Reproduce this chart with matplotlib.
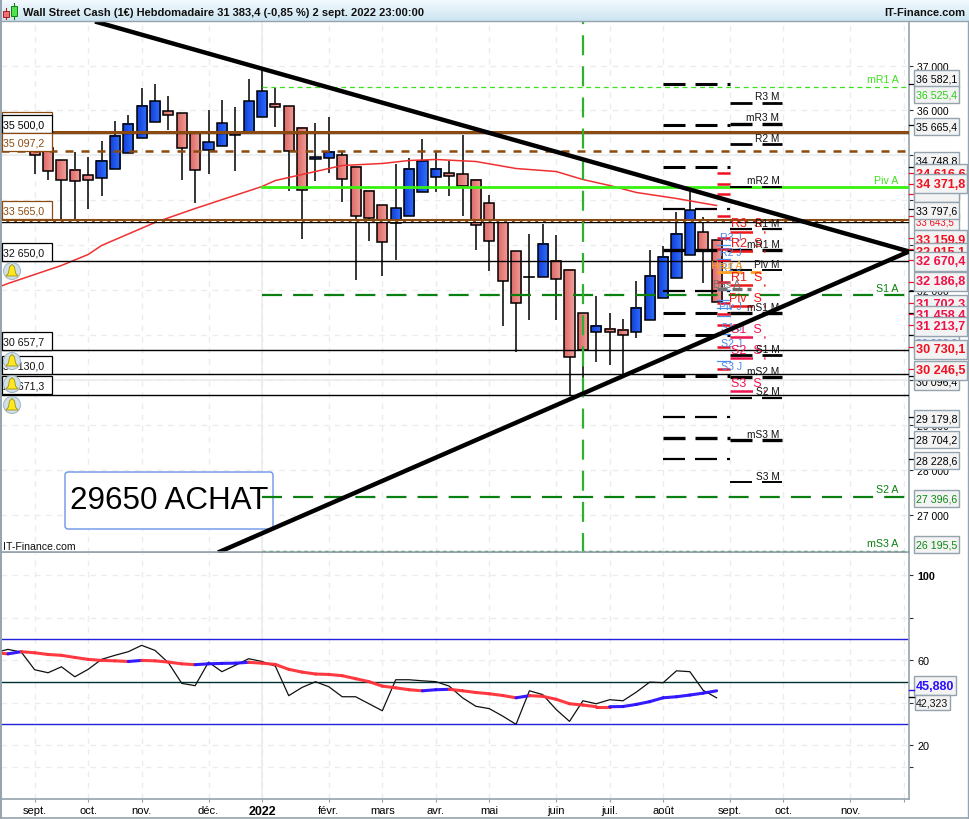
import numpy as np
import matplotlib
matplotlib.use('Agg')
import matplotlib.pyplot as plt
from matplotlib.colors import LinearSegmentedColormap
from matplotlib.patches import Rectangle, FancyBboxPatch, Circle, Polygon

plt.rcParams['font.family'] = ['Liberation Sans', 'DejaVu Sans']

# Weekly candles: index 0 is the first week of January 2022
candle_idx = list(range(-17, 35))
open_ = [35092, 35167, 34899, 34677, 34565, 34498, 34699, 35055, 35389, 35746, 35991, 35946, 35501,
         35122, 35211, 35456, 35501, 35857, 36147, 36102, 35612, 34922, 34944, 35010, 34743, 34209,
         33897, 33496, 33644, 34186, 34520, 34609, 34587, 34454, 33941, 33518, 32872, 32293, 32293,
         32650, 32449, 31491, 31068, 31135, 31113, 31068, 31335, 31825, 32271, 32769, 33281, 33103]
high = [35140, 35241, 34899, 35070, 34966, 35323, 35753, 35887, 36488, 36577, 36310, 35946, 35538,
        35998, 36221, 36065, 36689, 36911, 36503, 36102, 35612, 35709, 35864, 35092, 34743, 34209,
        33897, 34817, 34944, 35374, 35099, 34884, 35463, 34454, 34105, 33518, 32872, 33258, 33459,
        33236, 32449, 31491, 31863, 31491, 31358, 32204, 32902, 32976, 33748, 34238, 33637, 33103]
low = [34573, 34461, 33570, 33570, 33801, 34090, 34699, 35055, 35389, 35746, 35560, 34461, 33934,
       34573, 35204, 34640, 35501, 35857, 35620, 34194, 33125, 34417, 34595, 33956, 32219, 33088,
       32308, 32664, 33644, 34186, 34179, 34090, 33659, 32887, 32419, 31194, 30615, 31328, 32293,
       31343, 29636, 29969, 30393, 30326, 30118, 30942, 31335, 31825, 32271, 32769, 32167, 31744]
close = [35003, 34654, 34454, 34432, 34454, 34877, 35434, 35701, 36102, 36213, 35902, 35167, 34677,
         35300, 35723, 35486, 36213, 36436, 36080, 35100, 34231, 34966, 35078, 34476, 33644, 33607,
         33073, 33830, 34699, 34884, 34699, 34543, 34320, 33451, 33095, 32204, 31714, 32293, 33028,
         32249, 30511, 30667, 31202, 31068, 31001, 31603, 32315, 32739, 33251, 33771, 32902, 31744]

# Moving average
ma_idx = [-20, -19, -15, -13, -12, -8, -5, 0, 1, 6, 9, 11, 13, 16, 19, 22, 24, 26, 28, 31, 34]
ma_val = [32030, 32145, 32546, 32791, 32991, 33504, 33815, 34305, 34439, 34773, 34818, 34884, 34907,
          34862, 34706, 34639, 34461, 34328, 34172, 34038, 33882]

# Trend lines
down_idx = [-12.49, 48.39]
down_val = [37980, 32858]
up_idx = [-3.29, 48.39]
up_val = [26154, 32858]

# Monthly pivots, previous and next month
pivot_prev = [36582.1, 35665.4, 34748.8, 33797.6, 32880, 31967, 31477, 31009, 30074, 29179.8, 28704.2, 28228.6]
pivot_prev_lw = [2.2, 2.2, 2.2, 1.6, 2.4, 1.6, 2.2, 2.2, 2.2, 1.6, 2.4, 1.6]
pivot_next = [36176, 35708, 35241, 34305, 33348, 32880, 32435, 31477, 30542, 30052, 29606, 28649, 27713]
pivot_next_names = ['R3 M', 'mR3 M', 'R2 M', 'mR2 M', 'R1 M', 'mR1 M', 'Piv M', 'mS1 M', 'S1 M', 'mS2 M', 'S2 M', 'mS3 M', 'S3 M']
pivot_next_lw = [2, 2.4, 2, 1.4, 1.6, 2.4, 1.4, 2.4, 2, 2.4, 1.6, 2.4, 1.4]

# Weekly and daily pivots
week_prev = [34616.6, 34371.8, 34128, 33643.5, 33159.9, 32915.1, 32670.4, 32186.8, 31702.3, 31458.4, 31213.7, 30730.1, 30246.5]
week_next = [33303, 32858, 32101, 31633, 30943, 30475, 29740]
week_names = ['R3  S', 'R2  S', 'R1  S', 'Piv  S', 'S1  S', 'S2  S', 'S3  S']
day_levels = [33000, 32700, 31990, 31770, 31590, 31430, 31010, 30430]
day_names = ['R3 J', 'R2 J', 'R1 J', 'Piv J', 'S1 J', 'S2 J', 'S3 J']
day_label_levels = [33180, 32840, 32510, 31650, 31180, 30830, 30310]

# Oscillator
rsi_idx = list(range(-20, 35))
rsi = [63.6, 65.2, 63.9, 55.6, 54.2, 57.0, 52.3, 55.8, 60.5, 62.4, 64.1, 67.1, 64.7, 58.9, 49.2, 48.1,
       59.2, 54.7, 57.7, 60.8, 59.5, 57.3, 43.4, 47.3, 49.97, 47.6, 42.9, 42.9, 39.6, 36.3, 50.9, 50.9,
       50.4, 50.0, 47.9, 42.4, 38.4, 37.3, 33.8, 29.9, 45.7, 43.9, 36.9, 31.3, 41.0, 39.6, 41.5, 41.0,
       45.1, 49.8, 49.5, 55.1, 54.7, 45.9, 42.4]
rsi_avg = [63.6, 63.1, 64.1, 63.6, 62.8, 62.4, 61.4, 60.5, 60.0, 59.8, 59.5, 60.0, 59.8, 59.2, 58.4, 58.0,
           58.4, 58.6, 58.7, 59.1, 58.7, 58.1, 55.8, 54.5, 53.6, 53.4, 52.8, 51.4, 50.0, 47.9, 47.1, 46.2,
           45.7, 46.2, 46.4, 45.7, 44.9, 44.3, 43.5, 42.4, 43.4, 43.1, 41.7, 39.6, 39.0, 38.2, 38.2, 38.3,
           39.3, 40.6, 42.4, 42.9, 43.7, 44.6, 45.7]

# Time axis
month_idx = [-17, -13, -9, -4, 0, 5, 9, 13, 17, 22, 26, 30, 35, 39, 44, 48]
month_labels = ['sept.', 'oct.', 'nov.', 'déc.', '2022', 'févr.', 'mars', 'avr.', 'mai', 'juin', 'juil.', 'août', 'sept.', 'oct.', 'nov.', '']
price_ticks = list(range(27000, 38000, 1000))
price_tick_labels = ['27 000', '28 000', '29 000', '30 000', '31 000', '32 000', '33 000', '34 000', '35 000', '36 000', '37 000']

fig = plt.figure(figsize=(9.7, 8.2), dpi=100, facecolor='white')
W, H = 970.0, 820.0
BORDER = '#94a3ad'
GRID = '#ececec'

ax = fig.add_axes([1 / W, (H - 553.5) / H, 908 / W, 531 / H])
ax2 = fig.add_axes([1 / W, (H - 799.5) / H, 908 / W, 246 / H])
ov = fig.add_axes([0, 0, 1, 1], zorder=10)
ov.patch.set_alpha(0)
ov.axis('off')

xlim = (-19.52, 48.39)
ax.set_xlim(*xlim)
ax.set_ylim(26154, 37980)
ax2.set_xlim(*xlim)
ax2.set_ylim(-5, 110.8)

for a in (ax, ax2):
    a.set_xticks(month_idx)
    a.yaxis.tick_right()
    a.grid(True, color=GRID, lw=1, ls=(0, (4, 4)))
    a.set_axisbelow(True)
    a.spines['top'].set_visible(False)
    a.spines['left'].set_visible(False)
    for s in ('right', 'bottom'):
        a.spines[s].set_color(BORDER)
        a.spines[s].set_linewidth(1.2)
    a.axvline(0, color=GRID, lw=1.2, zorder=0.5)

ax.set_xticklabels([])
ax.tick_params(axis='x', length=0)
ax.set_yticks(price_ticks)
ax.set_yticklabels(price_tick_labels, fontsize=7.5)
ax.tick_params(axis='y', length=3, width=0.8, pad=3, color='#333333')
ax.axhline(35000, color=GRID, lw=1.2, zorder=0.5)
ax.axhline(30000, color=GRID, lw=1.2, zorder=0.5)

ax2.set_yticks([100, 60, 20, 10])
ax2.set_yticklabels(['100', '60', '20', ''], fontsize=7.8)
ax2.get_yticklabels()[0].set_fontweight('bold')
ax2.set_yticks([80, 40], minor=True)
ax2.tick_params(axis='y', which='both', length=3, width=0.8, pad=3, color='#333333')
ax2.grid(True, which='minor', axis='y', color=GRID, lw=1, ls=(0, (4, 4)))
ax2.set_xticklabels(month_labels, fontsize=8)
ax2.get_xticklabels()[4].set_fontweight('bold')
ax2.get_xticklabels()[4].set_fontsize(9)
ax2.tick_params(axis='x', length=2, width=0.8, color=BORDER, pad=3)

# Candles, with the small horizontal shading of the original
red_map = LinearSegmentedColormap.from_list('r', ['#dd6a68', '#f2a09a'])
blue_map = LinearSegmentedColormap.from_list('b', ['#1440d8', '#2f70ff'])
body = 0.38
shade = np.linspace(0, 1, 16).reshape(1, -1)
for i, o, h, l, c in zip(candle_idx, open_, high, low, close):
    ax.plot([i, i], [l, h], color='black', lw=1.1, zorder=2, solid_capstyle='butt')
    top, bot = max(o, c), min(o, c)
    if top == bot:
        ax.plot([i - body, i + body], [top, top], color='black', lw=1.2, zorder=3)
        continue
    ax.imshow(shade, extent=(i - body, i + body, bot, top), aspect='auto', zorder=2.5,
              cmap=blue_map if c > o else red_map, interpolation='bilinear')
    ax.add_patch(Rectangle((i - body, bot), 2 * body, top - bot, fc='none', ec='black', lw=1.1, zorder=3))
ax.set_xlim(*xlim)
ax.set_ylim(26154, 37980)

ax.plot(ma_idx, ma_val, color='#f03030', lw=1.1, zorder=3.2)

# Horizontal levels
ax.axhline(35490, color='black', lw=1.0, zorder=3.5)
ax.axhline(33520, color='black', lw=1.0, zorder=3.5)
ax.axhline(32650, color='black', lw=1.0, zorder=3.5)
ax.axhline(30657.7, color='black', lw=1.0, zorder=3.5)
ax.axhline(30130, color='black', lw=1.0, zorder=3.5)
ax.axhline(29671.3, color='black', lw=1.0, zorder=3.5)
ax.axhline(35530, color='#8a4a10', lw=2.2, zorder=3.6)
ax.axhline(33565, color='#8a4a10', lw=2.2, zorder=3.6)
ax.axhline(33540, color='white', lw=0.7, ls=(0, (5, 3)), zorder=3.7)
ax.axhline(35097.2, color='#8a4a10', lw=1.8, ls=(0, (3.2, 3.2)), zorder=3.6)

ax.plot([0, 48.39], [36525.4, 36525.4], color='#40e020', lw=0.9, ls=(0, (4, 3)), zorder=3.6)
ax.plot([0, 48.39], [34283, 34283], color='#38f010', lw=2.0, zorder=3.6)
ax.plot([0, 48.39], [31878, 31878], color='#0a8010', lw=1.6, ls=(0, (9, 5)), zorder=3.6)
ax.plot([0, 48.39], [27396.6, 27396.6], color='#0a8010', lw=1.6, ls=(0, (9, 5)), zorder=3.6)
ax.plot([0, 48.39], [26195.5, 26195.5], color='#0a8010', lw=1.0, ls=(0, (2.5, 2.5)), zorder=3.6)
ax.axvline(24, color='#30b030', lw=1.6, ls=(0, (9, 5)), zorder=3.6)

for name, price, col in [('mR1 A', 36525.4, '#40e020'), ('Piv A', 34283, '#40e020'), ('S1 A', 31878, '#0a8010'),
                         ('S2 A', 27396.6, '#0a8010'), ('mS3 A', 26195.5, '#0a8010')]:
    ax.text(47.6, price + 60, name, color=col, fontsize=7.7, ha='right', va='bottom', zorder=4)

# Pivot dashes
for price, lw in zip(pivot_prev, pivot_prev_lw):
    ax.plot([30, 35], [price, price], color='black', lw=lw, ls=(0, (22 * 0.72 / lw, 10 * 0.72 / lw)), zorder=4, dash_capstyle='butt')
    ax.plot([48.39, 48.7], [price, price], color='black', lw=0.9, zorder=4, clip_on=False)
for price, name, lw in zip(pivot_next, pivot_next_names, pivot_next_lw):
    ax.plot([35, 38.9], [price, price], color='black', lw=lw, ls=(0, (22 * 0.72 / lw, 10 * 0.72 / lw)), zorder=4, dash_capstyle='butt')
    ax.text(38.7, price + 40, name, fontsize=7.3, ha='right', va='bottom', color='#111111', zorder=4.6)

# Weekly pivots
for price in week_prev:
    ax.plot([34, 35], [price, price], color='#f01020', lw=1.8, zorder=4.2, solid_capstyle='butt')
    ax.plot([48.39, 48.7], [price, price], color='#f01020', lw=0.9, zorder=4, clip_on=False)
for k, (price, name) in enumerate(zip(week_next, week_names)):
    col = '#f01818' if k < 4 else '#ee1450'
    ax.plot([35, 37.6], [price, price], color=col, lw=1.8, ls=(0, (9, 4.5)), zorder=4.2, dash_capstyle='butt')
    ax.text(37.4, price + 60, name, fontsize=9, ha='right', va='bottom', color=col, zorder=4.5)

# Daily pivots and highs / lows
for price in day_levels:
    ax.plot([34, 35], [price, price], color='#4a90ee', lw=0.9, zorder=4.3)
for price, name in zip(day_label_levels, day_names):
    ax.text(35.9, price, name, fontsize=7.6, ha='right', va='center', color='#4a88e8', zorder=4.4)
ax.plot([34, 37.3], [32400, 32400], color='#ffa020', lw=2, ls=(0, (9, 3)), zorder=4.3, dash_capstyle='butt')
ax.text(35.9, 32560, 'Haut A', fontsize=7.6, ha='right', va='center', color='#ffa020', zorder=4.4)
ax.plot([34, 36.6], [32020, 32020], color='#707070', lw=2.4, ls=(0, (3, 1.5)), zorder=4.3, dash_capstyle='butt')
ax.text(35.8, 32130, 'Bas A', fontsize=7.6, ha='right', va='center', color='#707070', zorder=4.4)

# Trend lines on top of everything
ax.plot(down_idx, down_val, color='black', lw=3.2, zorder=5, solid_capstyle='butt')
ax.plot(up_idx, up_val, color='black', lw=3.2, zorder=5, solid_capstyle='butt')

# Oscillator panel
ax2.axhline(70, color='#2222dd', lw=1.0)
ax2.axhline(30, color='#2222dd', lw=1.0)
ax2.axhline(50, color='#003030', lw=1.0)
ax2.plot(rsi_idx, rsi, color='#111111', lw=0.9, zorder=3)
for k in range(len(rsi_idx) - 1):
    col = '#2a10ff' if rsi_avg[k + 1] > rsi_avg[k] else '#ff3038'
    ax2.plot(rsi_idx[k:k + 2], rsi_avg[k:k + 2], color=col, lw=2.2, zorder=4, solid_capstyle='round', alpha=0.95)

# Title bar
ov.imshow(np.linspace(0, 1, 22).reshape(-1, 1), extent=(0, 970, 22, 0), aspect='auto', zorder=1,
          cmap=LinearSegmentedColormap.from_list('bar', ['#f4fbff', '#cde5f1']))
ov.set_xlim(0, 970)
ov.set_ylim(820, 0)
ov.plot([0, 970], [22, 22], color=BORDER, lw=1, zorder=2)
ov.text(23, 13, 'Wall Street Cash (1€) Hebdomadaire 31 383,4 (-0,85 %) 2 sept. 2022 23:00:00',
        fontsize=8, fontweight='bold', va='center', color='#111111', zorder=3)
ov.text(965, 13, 'IT-Finance.com', fontsize=8, fontweight='bold', va='center', ha='right', color='#111111', zorder=3)
ov.plot([6, 6], [9, 20], color='#b02020', lw=0.8, zorder=3)
ov.add_patch(Rectangle((3.5, 12), 6, 6, fc='#f07070', ec='#a02020', lw=0.7, zorder=4))
ov.plot([14, 14], [4, 20], color='#108010', lw=0.8, zorder=3)
ov.add_patch(Rectangle((11, 7), 6, 9.5, fc='#50e050', ec='#108010', lw=0.7, zorder=4))

# Outer frame
ov.plot([0.5, 0.5], [0, 820], color=BORDER, lw=1.4, zorder=2)
ov.plot([0, 969], [819, 819], color=BORDER, lw=1.2, zorder=2)
ov.plot([968.5, 968.5], [22, 820], color=BORDER, lw=1, zorder=2)
ov.plot([0, 909], [553, 553], color=BORDER, lw=1.2, zorder=2)

# Boxes on the left
left_boxes = [('35 500,0', 116, 134, 'black', 'black'), ('35 097,2', 134, 152, '#8a4a10', '#8a4a10'),
              ('33 565,0', 202, 220, '#8a4a10', '#8a4a10'), ('32 650,0', 244, 262, 'black', '#111111'),
              ('30 657,7', 333, 351, 'black', '#111111'), ('30 130,0', 357, 375, 'black', '#111111'),
              ('29 671,3', 377, 395, 'black', '#111111')]
ov.add_patch(Rectangle((2, 113), 50, 4, fc='white', ec='#8a4a10', lw=0.9, zorder=3))
for label, y0, y1, edge, col in left_boxes:
    ov.add_patch(Rectangle((2, y0), 50, y1 - y0, fc='white', ec=edge, lw=0.9, zorder=3))
    ov.text(3, (y0 + y1) / 2 + 0.5, label, fontsize=7.7, va='center', color=col, zorder=4)

# Boxes on the right, later ones on top
right_boxes = [('36 582,1', 79, 'black', False, 7.7), ('36 525,4', 95, '#28d010', False, 7.7),
               ('35 665,4', 127, 'black', False, 7.7), ('34 748,8', 161, 'black', False, 7.7),
               ('34 616,6', 174, '#f01020', True, 9.1), ('34 128,2', 191, 'black', False, 7.7),
               ('33 643,5', 222, '#f01020', False, 7), ('33 159,9', 240, '#f01020', True, 9.1),
               ('33 797,6', 211, 'black', False, 7.7), ('34 371,8', 184, '#f01020', True, 9.1),
               ('32 915,1', 253, '#f01020', True, 9.1), ('32 670,4', 262, '#f01048', True, 9.1),
               ('32 186,8', 282, '#f01048', True, 9.1), ('31 702,3', 305, '#f01048', True, 9.1),
               ('31 458,4', 316, '#f01048', True, 9.1), ('30 938,9', 343, '#4a88e8', False, 7.7),
               ('31 213,7', 327, '#f01048', True, 9.1), ('30 096,4', 382, 'black', False, 7.7),
               ('30 730,1', 350, '#f01020', True, 9.1), ('30 246,5', 371, '#f01020', True, 9.1),
               ('29 179,8', 419, 'black', False, 7.7), ('28 704,2', 440, 'black', False, 7.7),
               ('28 228,6', 461, 'black', False, 7.7), ('27 396,6', 499, '#0a8a10', False, 7.7),
               ('26 195,5', 545, '#0a8a10', False, 7.7)]
for k, (label, yc, col, bold, fs) in enumerate(right_boxes):
    w = 53 if bold else 45
    h = 19 if bold else 17
    ov.add_patch(Rectangle((914, yc - h / 2), w, h, fc='#f3f3f3', ec=BORDER, lw=1, zorder=3 + k * 0.01))
    ov.text(916, yc + 0.5, label, fontsize=fs, fontweight='bold' if bold else 'normal', va='center',
            color=col, zorder=3.005 + k * 0.01)
ov.add_patch(Rectangle((914, 192), 45, 11, fc='#f3f3f3', ec=BORDER, lw=1, zorder=3.055))

# Oscillator value boxes
ov.add_patch(Rectangle((914, 677), 42, 19, fc='#f3f3f3', ec=BORDER, lw=1, zorder=3))
ov.text(916, 687, '45,880', fontsize=9, fontweight='bold', va='center', color='#2a10ff', zorder=4)
ov.add_patch(Rectangle((915, 696), 35, 15, fc='#f3f3f3', ec=BORDER, lw=1, zorder=3))
ov.text(916, 704, '42,323', fontsize=7.7, va='center', color='#111111', zorder=4)
ov.plot([909, 914], [691, 691], color='#2a10ff', lw=1, zorder=3)
ov.plot([909, 914], [698, 698], color='black', lw=1, zorder=3)

# Bells
for y in [272, 362, 385, 406]:
    ov.add_patch(Circle((12, y), 8.5, fc='#cfe0ea', ec='#9fb4c2', lw=0.7, zorder=5))
    ov.add_patch(Polygon([(12, y - 6.5), (14.5, y - 4), (15.5, y + 2), (18, y + 5), (6, y + 5), (8.5, y + 2), (9.5, y - 4)],
                         fc='#ffe81e', ec='#a09010', lw=0.6, zorder=6))

# Comment box, below the trend lines and levels
ax.add_patch(FancyBboxPatch((67, 475), 204, 53, boxstyle='round,pad=2,rounding_size=3', transform=ov.transData,
                            fc='white', ec='#6a94e8', lw=1, zorder=3.55, clip_on=False))
ax.text(70, 501, '29650 ACHAT', transform=ov.transData, fontsize=22.6, va='center', ha='left', color='black', zorder=3.55, clip_on=False)
ov.text(3, 547, 'IT-Finance.com', fontsize=7.6, va='center', color='#111111', zorder=4)

fig.savefig('out.png', dpi=100)
